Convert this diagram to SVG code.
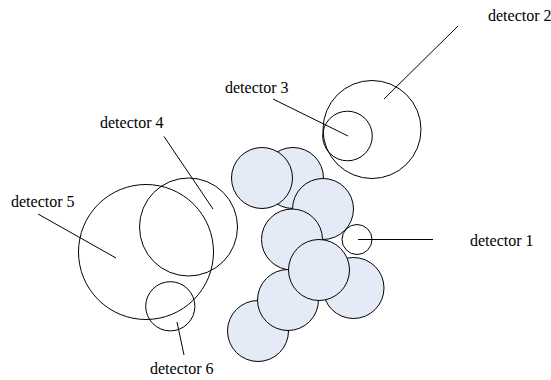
<svg xmlns="http://www.w3.org/2000/svg" width="551" height="380" viewBox="0 0 551 380">
  <style>
    .obj { fill: #e5ebf6; stroke: #000; stroke-width: 1; }
    .det { fill: none; stroke: #000; stroke-width: 1; }
    .lead { stroke: #000; stroke-width: 1; fill: none; }
    text { font-family: "Liberation Serif", "Times New Roman", Tinos, "Noto Serif", "DejaVu Serif", FreeSerif, Times, serif; font-size: 16px; fill: #000; }
  </style>
  <rect width="551" height="380" fill="#fff"/>

  <!-- cluster of objects (drawn back to front) -->
  <g id="objects">
    <g id="obj-b"><circle class="obj" cx="293" cy="178" r="30.5"/></g>
    <g id="obj-a"><circle class="obj" cx="262" cy="178" r="30.5"/></g>
    <g id="obj-c"><circle class="obj" cx="323" cy="209" r="30.5"/></g>
    <g id="obj-d"><circle class="obj" cx="292" cy="239.5" r="30.5"/></g>
    <g id="obj-f"><circle class="obj" cx="353.5" cy="288" r="30.5"/></g>
    <g id="obj-h"><circle class="obj" cx="258" cy="331" r="30.5"/></g>
    <g id="obj-g"><circle class="obj" cx="288" cy="300" r="30.5"/></g>
    <g id="obj-e"><circle class="obj" cx="319" cy="270" r="30.5"/></g>
  </g>

  <!-- detector ranges with their labels -->
  <g id="detector1"><circle class="det" cx="357" cy="239.5" r="15"/><text x="470" y="246">detector 1</text></g>
  <g id="detector2"><circle class="det" cx="372" cy="129.5" r="49"/><text x="488" y="21">detector 2</text></g>
  <g id="detector3"><circle class="det" cx="347.5" cy="136" r="24.8"/><text x="225" y="93">detector 3</text></g>
  <g id="detector4"><circle class="det" cx="188.5" cy="227" r="49"/><text x="100" y="128">detector 4</text></g>
  <g id="detector5"><circle class="det" cx="146" cy="252" r="67.5"/><text x="11" y="207">detector 5</text></g>
  <g id="detector6"><circle class="det" cx="170.3" cy="306.3" r="24.6"/><text x="150" y="374">detector 6</text></g>

  <!-- leader lines -->
  <g id="connectors">
    <line class="lead" x1="358" y1="239.5" x2="433" y2="239.5"/>
    <line class="lead" x1="384" y1="99" x2="458" y2="26"/>
    <line class="lead" x1="273" y1="99" x2="348" y2="136"/>
    <line class="lead" x1="164" y1="136.5" x2="213" y2="209"/>
    <line class="lead" x1="38" y1="214" x2="116" y2="258"/>
    <line class="lead" x1="177" y1="322" x2="184" y2="355"/>
  </g>
</svg>
